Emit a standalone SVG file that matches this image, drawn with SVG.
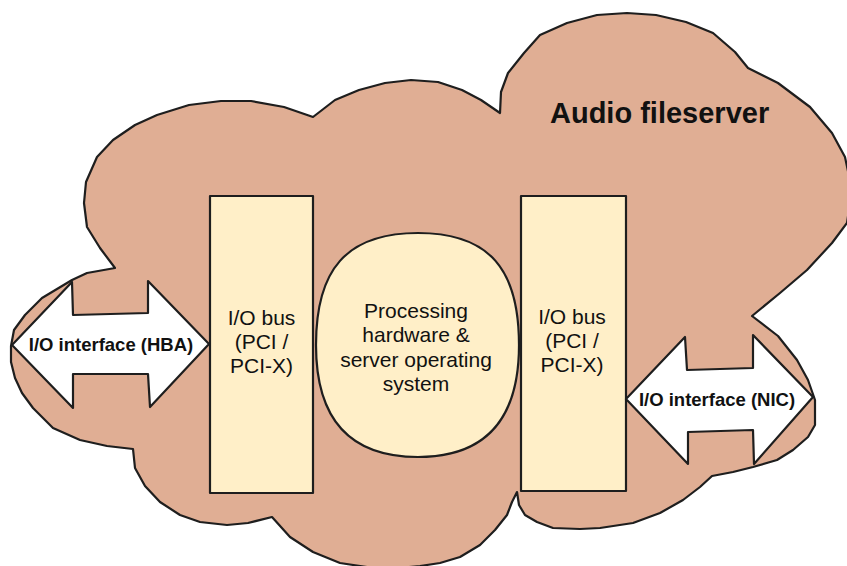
<svg xmlns="http://www.w3.org/2000/svg" width="847" height="566" viewBox="0 0 847 566">
<style>
.outline{stroke:#1e1e1e;stroke-width:2.2;stroke-linejoin:round}
.cloud{fill:#E0AE94}
.box{fill:#FFEFC8}
.arrow{fill:#FFFFFF}
.lbl{font-family:"Liberation Sans",Arial,sans-serif;font-size:21px;fill:#111;text-anchor:middle}
.blbl{font-family:"Liberation Sans",Arial,sans-serif;font-weight:bold;font-size:18.5px;fill:#111;text-anchor:middle}
.title{font-family:"Liberation Sans",Arial,sans-serif;font-weight:bold;font-size:29px;fill:#111}
</style>
<rect width="847" height="566" fill="#FFFFFF"/>
<g id="cloud">
<path class="cloud outline" d="M627,13 L656,15 L686,22 L713,33 L735,52 L748,68 L778,83 L810,107 L832,133 L845,157 L852,190 L847,223 L832,243 L807,270 L780,293 L752,316 L778,336 L797,360 L808,380 L815,400 L815,425 L808,437 L793,450 L777,460 L753,467 L733,472 L712,476 L700,487 L683,500 L660,513 L633,523 L600,528 L580,529 L553,528 L537,522 L525,515 L519,505 L517,492 L512,502 L507,515 L495,530 L480,545 L460,557 L440,563 L420,566 L400,568 L367,567 L340,563 L313,552 L290,537 L272,517 L248,523 L227,525 L200,522 L180,515 L160,502 L145,486 L135,468 L133,449 L107,446 L80,440 L53,428 L33,408 L22,393 L15,378 L11,362 L11,346 L14,330 L25,315 L42,298 L72,280 L87,273 L115,268 L100,248 L87,227 L84,203 L86,182 L97,157 L113,140 L135,125 L157,115 L189,105 L221,101 L251,101 L284,107 L313,117 L335,100 L359,90 L385,83 L411,80 L438,82 L462,90 L481,100 L500,113 L501,92 L508,73 L524,53 L540,35 L567,23 L597,15 Z"/>
<text class="title" x="550" y="123">Audio fileserver</text>
</g>
<g id="iobus-left">
<rect class="box outline" x="210" y="196" width="103" height="297"/>
<text class="lbl" x="261.5" y="325">I/O bus</text>
<text class="lbl" x="261.5" y="349">(PCI /</text>
<text class="lbl" x="261.5" y="373">PCI-X)</text>
</g>
<g id="iobus-right">
<rect class="box outline" x="521" y="196" width="105" height="295"/>
<text class="lbl" x="572" y="324">I/O bus</text>
<text class="lbl" x="572" y="348">(PCI /</text>
<text class="lbl" x="572" y="372">PCI-X)</text>
</g>
<g id="processing">
<path class="box outline" d="M418,233 C490,233 519,270 519,345 C519,420 485,457 418,457 C350,457 316,420 316,345 C316,270 346,233 418,233 Z"/>
<text class="lbl" x="416" y="318">Processing</text>
<text class="lbl" x="416" y="342">hardware &amp;</text>
<text class="lbl" x="416" y="367">server operating</text>
<text class="lbl" x="416" y="391">system</text>
</g>
<g id="hba">
<polygon class="arrow outline" points="12,345 72,282 73,315 148,313 148,281 209,344 150,407 148,374 73,374 73,408"/>
<text class="blbl" x="111" y="351">I/O interface (HBA)</text>
</g>
<g id="nic">
<polygon class="arrow outline" points="626,399 685,337 687,370 753,368 753,335 813,397 754,464 753,430 688,432 688,464"/>
<text class="blbl" x="717" y="406">I/O interface (NIC)</text>
</g>
<g id="connectors"/>
</svg>
